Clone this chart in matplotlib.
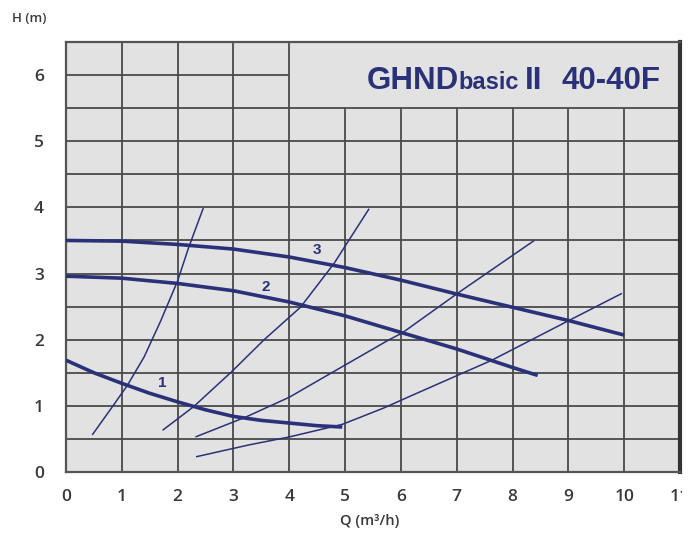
import matplotlib
matplotlib.use('Agg')
import matplotlib.pyplot as plt
from matplotlib.transforms import Bbox, TransformedBbox
import numpy as np

# 축 눈금
q_ticks = list(range(12))
h_ticks = list(range(7))

# 펌프 곡선 1, 2, 3 (Q m3/h, H m)
pump1_q = [0, 0.5, 1, 1.5, 2, 2.5, 3, 3.5, 4, 4.5, 4.95]
pump1_h = [1.69, 1.5, 1.34, 1.19, 1.06, 0.94, 0.84, 0.78, 0.74, 0.7, 0.68]
pump2_q = [0, 1, 2, 3, 4, 5, 6, 7, 8, 8.45]
pump2_h = [2.96, 2.93, 2.85, 2.74, 2.57, 2.36, 2.11, 1.86, 1.58, 1.46]
pump3_q = [0, 1, 2, 3, 4, 5, 6, 7, 8, 9, 10]
pump3_h = [3.5, 3.49, 3.44, 3.37, 3.25, 3.09, 2.9, 2.69, 2.49, 2.29, 2.07]

# 배관 저항 곡선 (가는 선)
sysA_q = [0.47, 0.8, 1.1, 1.4, 1.7, 2.0, 2.2, 2.46]
sysA_h = [0.56, 0.95, 1.31, 1.74, 2.29, 2.89, 3.4, 3.99]
sysB_q = [1.73, 2.29, 2.96, 3.55, 4.2, 4.8, 5.43]
sysB_h = [0.63, 0.99, 1.51, 2.0, 2.49, 3.15, 3.98]
sysC_q = [2.32, 3.22, 4.0, 4.78, 5.79, 6.02, 7.03, 8.39]
sysC_h = [0.53, 0.83, 1.13, 1.51, 2.0, 2.1, 2.71, 3.5]
sysD_q = [2.33, 3.28, 4.0, 4.95, 5.7, 6.15, 7.63, 9.01, 9.96]
sysD_h = [0.23, 0.41, 0.53, 0.72, 0.97, 1.14, 1.69, 2.29, 2.7]

labels = ['1', '2', '3']
label_q = [1.72, 3.58, 4.5]
label_h = [1.34, 2.79, 3.35]

navy = '#2b3178'
grid_c = '#4a4a4a'
tick_c = '#3a3a3a'

fig = plt.figure(figsize=(6.96, 5.40), dpi=100)
ax = fig.add_axes([66/696, 1-472/540, (680-66)/696, (472-42)/540])
ax.set_xlim(0, 11)
ax.set_ylim(0, 6.5)
ax.set_facecolor('#e2e2e2')

# 격자: 제목 상자 영역(Q>4, H>5.5)은 비워 둔다
vq = np.array(q_ticks[1:-1])
ax.vlines(vq, 0, np.where(vq <= 4, 6.5, 5.5), color=grid_c, lw=1.3, zorder=1)
hh = np.arange(0.5, 6.01, 0.5)
ax.hlines(hh, 0, np.where(hh > 5.5, 4, 11), color=grid_c, lw=1.3, zorder=1)

# 곡선 그리기
for q, h in [(sysA_q, sysA_h), (sysB_q, sysB_h), (sysC_q, sysC_h), (sysD_q, sysD_h)]:
    ax.plot(q, h, color=navy, lw=1.1, zorder=2, solid_capstyle='butt', solid_joinstyle='round')
for q, h in [(pump1_q, pump1_h), (pump2_q, pump2_h), (pump3_q, pump3_h)]:
    ax.plot(q, h, color=navy, lw=2.6, zorder=3, solid_capstyle='butt', solid_joinstyle='round')
for t, q, h in zip(labels, label_q, label_h):
    ax.text(q, h, t, color=navy, fontsize=11, fontweight='bold',
            family='Liberation Sans', ha='center', va='center', zorder=4)

# 제목
tkw = dict(color=navy, fontweight='bold', family='Liberation Sans', va='baseline', zorder=4)
ax.text(5.38, 5.79, 'GHND', fontsize=22.5, **tkw)
ax.text(7.04, 5.79, 'basic', fontsize=17, **tkw)
ax.text(8.22, 5.79, 'II', fontsize=22.5, **tkw)
ax.text(8.87, 5.79, '40-40F', fontsize=22.5, **tkw)

# 테두리
for s in ['left', 'bottom', 'top']:
    ax.spines[s].set_color('#555555')
    ax.spines[s].set_linewidth(1.6)
ax.spines['right'].set_color('#333333')
ax.spines['right'].set_linewidth(3)

ax.set_xticks(q_ticks)
ax.set_yticks(h_ticks)
ax.set_xticklabels([str(v) for v in q_ticks])
ax.set_yticklabels([str(v) for v in h_ticks])
ax.tick_params(length=0, labelsize=12.5, labelcolor=tick_c)
ax.tick_params(axis='x', pad=12)
ax.tick_params(axis='y', pad=16)
for lab in ax.get_xticklabels() + ax.get_yticklabels():
    lab.set_family('Open Sans')
    lab.set_fontweight('semibold')
# 마지막 눈금 '11'은 원본처럼 오른쪽이 잘림
clip = TransformedBbox(Bbox([[0, 0], [682/696, 1]]), fig.transFigure)
lab11 = ax.get_xticklabels()[-1]
lab11.set_clip_box(clip)
lab11.set_clip_on(True)

fig.text(12/696, 1-19/540, 'H (m)', fontsize=9.5, color=tick_c, family='Open Sans',
         fontweight='semibold', ha='left', va='center')
fig.text(370/696, 1-521/540, 'Q (m³/h)', fontsize=10.5, color=tick_c, family='Open Sans',
         fontweight='semibold', ha='center', va='center')

fig.savefig('out.png', dpi=100, facecolor='white')
